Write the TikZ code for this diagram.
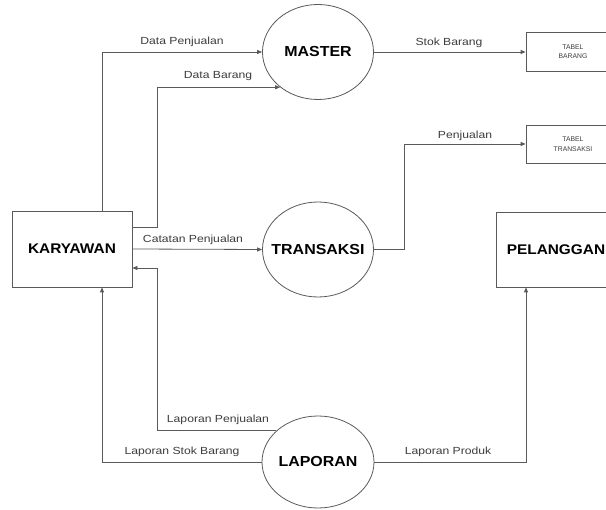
\documentclass[tikz,border=0pt]{standalone}
\usepackage{fontspec}
\setmainfont{Liberation Sans}
\newfontfamily\labfont[FakeStretch=1.18]{Liberation Sans}
\newfontfamily\namefont[FakeStretch=1.1]{Liberation Sans}
\usetikzlibrary{shapes.geometric,arrows.meta}
\definecolor{linegray}{HTML}{5A5A5A}
\definecolor{textgray}{HTML}{3C3C3C}
\begin{document}
\begin{tikzpicture}[x=1pt,y=-1pt,
  proc/.style={ellipse,draw=linegray,line width=0.8pt,inner xsep=-30pt,inner ysep=0pt,
    font=\namefont\fontsize{14.5}{16}\selectfont\bfseries},
  ent/.style={rectangle,draw=linegray,line width=0.8pt,inner sep=0pt,
    font=\namefont\fontsize{14}{16}\selectfont\bfseries},
  store/.style={rectangle,draw=linegray,line width=0.8pt,inner sep=0pt,align=center,
    font=\fontsize{6.8}{9.5}\selectfont,text=textgray},
  flow/.style={draw=linegray,line width=0.8pt,-{Triangle[length=5pt,width=4pt]}},
  lab/.style={font=\labfont\fontsize{10.3}{12}\selectfont,text=textgray,inner sep=0pt}]
\useasboundingbox (0,0) rectangle (606,510);
\clip (0,0) rectangle (606,510);
\fill[white] (0,0) rectangle (606,510);

\node[ent,minimum width=120pt,minimum height=76pt] (kary) at (72,249) {KARYAWAN};
\node[proc,minimum width=111pt,minimum height=95pt] (master) at (318,52) {MASTER};
\node[proc,minimum width=111pt,minimum height=95pt] (trans) at (318,249.5) {TRANSAKSI};
\node[proc,minimum width=112pt,minimum height=92pt] (lap) at (318,462) {LAPORAN};
\node[store,minimum width=94pt,minimum height=39pt] (tbar) at (573,51.5) {TABEL\\BARANG};
\node[store,minimum width=94pt,minimum height=38pt] (ttrans) at (573,144) {TABEL\\TRANSAKSI};
\node[ent,minimum width=120pt,minimum height=75pt] (pel) at (556,249.5) {PELANGGAN};

% flows
\draw[flow] ([xshift=30pt]kary.north) |- (master.west);
\draw[flow] ([yshift=22pt]kary.east) -- ++(25,0) |- (master.223);
\draw[flow] (kary.east) -- (trans.west);
\draw[flow] (master.east) -- (master.east -| tbar.west);
\draw[flow] (trans.east) -- ++(30,0) |- (ttrans.west);
\draw[flow] (lap.143) -| ([xshift=25pt,yshift=-19pt]kary.east) -- ([yshift=-19pt]kary.east);
\draw[flow] (lap.west) -| ([xshift=30pt]kary.south);
\draw[flow] (lap.east) -| ([xshift=-30pt]pel.south);

% labels
\node[lab] (l1) at (182,42) {Data Penjualan};
\node[lab] (l2) at (218,76) {Data Barang};
\node[lab] (l3) at (193,240) {Catatan Penjualan};
\node[lab] (l4) at (449,43) {Stok Barang};
\node[lab] (l5) at (465,136) {Penjualan};
\node[lab] (l6) at (218,420) {Laporan Penjualan};
\node[lab] (l7) at (182,452) {Laporan Stok Barang};
\node[lab] (l8) at (448,452) {Laporan Produk};
\end{tikzpicture}
\end{document}
